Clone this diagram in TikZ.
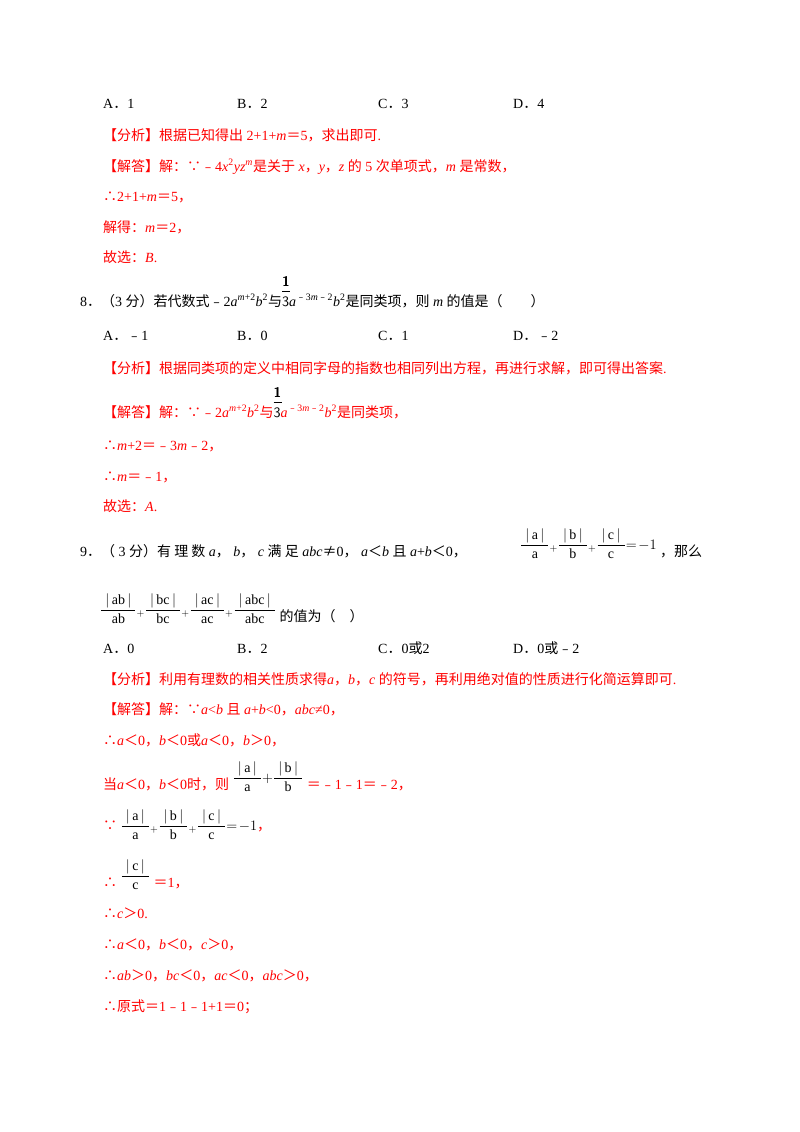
\documentclass[tikz,border=0pt]{standalone}
\usepackage{fontspec}
\usepackage{amsmath}
\setmainfont{Liberation Serif}
\newfontfamily\Z{Noto Sans CJK SC}
\newcommand\mm{{\Z ﹣}}
\newcommand\dd{{\Z ．}}
\newcommand\af[1]{\ensuremath{\dfrac{\;|\,\mathrm{#1}\,|\;}{\mathrm{#1}}}}
\newcommand\raf[1]{\raisebox{7pt}{\af{#1}}}
\newcommand\pl{\raisebox{7pt}{${}_+$}}
\newcommand\ooo{\textcolor{black}{\rlap{\raisebox{20pt}{\sffamily\bfseries 1}}\rlap{\rule[15pt]{8pt}{0.4pt}}{\sffamily\Large 3}}}
\begin{document}
\begin{tikzpicture}[x=1pt,y=-1pt,
  every node/.style={anchor=base west,inner sep=0pt,font=\fontsize{14}{17}\selectfont},
  rd/.style={text=red}]
\useasboundingbox (0,0) rectangle (800,1132);
\node (a1) at (103,108) {A\dd 1};
\node (b1) at (237,108) {B\dd 2};
\node (c1) at (378,108) {C\dd 3};
\node (d1) at (513,108) {D\dd 4};
\node[rd] (l1) at (103,140) {{\Z【分析】根据已知得出} 2+1+\textit{m}{\Z ＝}5{\Z ，求出即可}.};
\node[rd] (l2) at (103,171) {{\Z【解答】解：∵}\mm 4\textit{x}\textsuperscript{2}\textit{yz}\textsuperscript{\textit{m}}{\Z 是关于} \textit{x}{\Z ，}\textit{y}{\Z ，}\textit{z} {\Z 的} 5 {\Z 次单项式，}\textit{m} {\Z 是常数，}};
\node[rd] (l3) at (103,201) {{\Z ∴}2+1+\textit{m}{\Z ＝}5{\Z ，}};
\node[rd] (l4) at (103,232) {{\Z 解得：}\textit{m}{\Z ＝}2{\Z ，}};
\node[rd] (l5) at (103,262) {{\Z 故选：}\textit{B}.};
\node (q8) at (80,306) {8{\Z ．（}3 {\Z 分）若代数式}\mm 2\textit{a}\textsuperscript{\textit{m}+2}\textit{b}\textsuperscript{2}{\Z 与}\ooo\textit{a}\textsuperscript{\mm 3\textit{m}\mm 2}\textit{b}\textsuperscript{2}{\Z 是同类项，则} \textit{m} {\Z 的值是（\quad\quad ）}};
\node (a8) at (103,340) {A\dd \mm 1};
\node (b8) at (237,340) {B\dd 0};
\node (c8) at (378,340) {C\dd 1};
\node (d8) at (513,340) {D\dd \mm 2};
\node[rd] (m1) at (103,373) {{\Z【分析】根据同类项的定义中相同字母的指数也相同列出方程，再进行求解，即可得出答案}.};
\node[rd] (m2) at (103,417) {{\Z【解答】解：∵}\mm 2\textit{a}\textsuperscript{\textit{m}+2}\textit{b}\textsuperscript{2}{\Z 与}\ooo\textit{a}\textsuperscript{\mm 3\textit{m}\mm 2}\textit{b}\textsuperscript{2}{\Z 是同类项，}};
\node[rd] (m3) at (103,450) {{\Z ∴}\textit{m}+2{\Z ＝}\mm 3\textit{m}\mm 2{\Z ，}};
\node[rd] (m4) at (103,481) {{\Z ∴}\textit{m}{\Z ＝}\mm 1{\Z ，}};
\node[rd] (m5) at (103,511) {{\Z 故选：}\textit{A}.};
\node (q9) at (80,556) {9{\Z ．（} 3 {\Z 分）有 理 数} \textit{a}{\Z ，} \textit{b}{\Z ，} \textit{c} {\Z 满 足} \textit{abc}{\Z ≠}0{\Z ，} \textit{a}{\Z ＜}\textit{b} {\Z 且} \textit{a}+\textit{b}{\Z ＜}0{\Z ，}};
\node (f9) at (520,556) {\raf{a}\pl\raf{b}\pl\raf{c}\raisebox{7pt}{$=\!-1$}};
\node (n9) at (660,556) {{\Z ，那么}};
\node (f9b) at (100,621) {\raf{ab}\pl\raf{bc}\pl\raf{ac}\pl\raf{abc} {\Z 的值为（\quad ）}};
\node (a9) at (103,653) {A\dd 0};
\node (b9) at (237,653) {B\dd 2};
\node (c9) at (378,653) {C\dd 0{\Z 或}2};
\node (d9) at (513,653) {D\dd 0{\Z 或}\mm 2};
\node[rd] (r1) at (103,684) {{\Z【分析】利用有理数的相关性质求得}\textit{a}{\Z ，}\textit{b}{\Z ，}\textit{c} {\Z 的符号，再利用绝对值的性质进行化简运算即可}.};
\node[rd] (r2) at (103,714) {{\Z【解答】解：∵}\textit{a}<\textit{b} {\Z 且} \textit{a}+\textit{b}<0{\Z ，}\textit{abc}≠0{\Z ，}};
\node[rd] (r3) at (103,745) {{\Z ∴}\textit{a}{\Z ＜}0{\Z ，}\textit{b}{\Z ＜}0{\Z 或}\textit{a}{\Z ＜}0{\Z ，}\textit{b}{\Z ＞}0{\Z ，}};
\node[rd] (r4) at (103,789) {{\Z 当}\textit{a}{\Z ＜}0{\Z ，}\textit{b}{\Z ＜}0{\Z 时，则} \textcolor{black}{\raf{a}\raisebox{7pt}{$+$}\raf{b}} {\Z ＝}\mm 1\mm 1{\Z ＝}\mm 2{\Z ，}};
\node[rd] (r5) at (103,830) {{\Z ∵} \textcolor{black}{\af{a}${}_+$\af{b}${}_+$\af{c}$=\!-1$}{\Z ，}};
\node[rd] (r6) at (103,887) {{\Z ∴} \textcolor{black}{\raf{c}} {\Z ＝}1{\Z ，}};
\node[rd] (r7) at (103,918) {{\Z ∴}\textit{c}{\Z ＞}0.};
\node[rd] (r8) at (103,949) {{\Z ∴}\textit{a}{\Z ＜}0{\Z ，}\textit{b}{\Z ＜}0{\Z ，}\textit{c}{\Z ＞}0{\Z ，}};
\node[rd] (r9) at (103,980) {{\Z ∴}\textit{ab}{\Z ＞}0{\Z ，}\textit{bc}{\Z ＜}0{\Z ，}\textit{ac}{\Z ＜}0{\Z ，}\textit{abc}{\Z ＞}0{\Z ，}};
\node[rd] (r10) at (103,1011) {{\Z ∴原式＝}1\mm 1\mm 1+1{\Z ＝}0{\Z ；}};
\end{tikzpicture}
\end{document}
